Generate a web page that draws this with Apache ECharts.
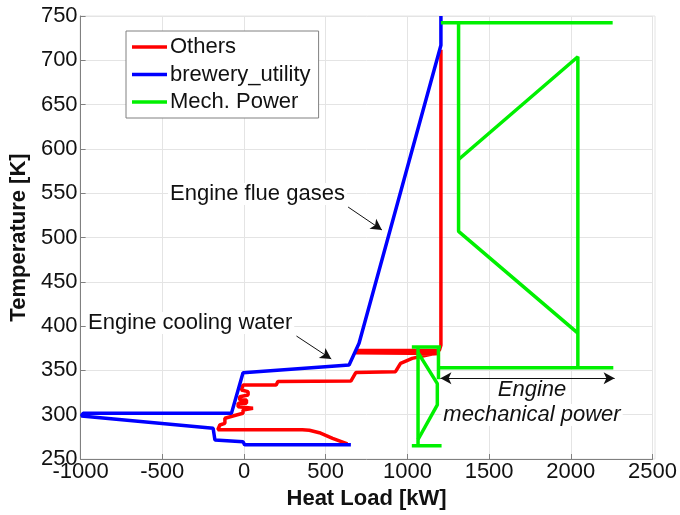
<!DOCTYPE html>
<html>
<head>
<meta charset="utf-8">
<script src="https://cdn.jsdelivr.net/npm/echarts@6/dist/echarts.min.js"></script>
<style>
  html, body { margin: 0; padding: 0; background: #fff; }
  #main { width: 680px; height: 515px; }
</style>
</head>
<body>
<div id="main"></div>
<script>
// axis ticks
const xTicks = { min: -1000, max: 2500, step: 500 };
const yTicks = { min: 250, max: 750, step: 50 };

// composite curves [heat load kW, temperature K]
const others = [
  [633, 267], [542, 273.4], [461, 279.7], [400, 282.5], [357, 283], [-160, 283],
  [-168, 283], [-148, 288.4], [-117, 290.3], [-117, 296], [-46, 299.7], [-6, 301.6],
  [-6, 305.3], [55, 307.2], [-36, 309], [-36, 312.9], [15, 312.9], [15, 316.6],
  [-26, 316.6], [-26, 320.3], [25, 322.3], [25, 326], [-16, 327.9], [-6, 333.5],
  [197, 333.5], [207, 337.5], [654, 338], [684, 347.5], [927, 348.6], [958, 358],
  [1029, 363.6], [1150, 368.5], [1191, 369], [684, 370], [684, 372.5], [1195, 372.5],
  [1205, 378.5], [1205, 712]
];

const breweryUtility = [
  [1205, 750], [1205, 717], [704, 380.6], [643, 356], [-6, 347.4], [-77, 301.5],
  [-985, 301.5], [-995, 298.5], [-189, 284.8], [-178, 284.5], [-178, 271.5],
  [-6, 269.5], [4, 266], [654, 266]
];

// mechanical power is drawn as separate strokes
const mechPower = [
  [[1205, 742.5], [2256, 742.5]],
  [[1313, 742.5], [1313, 507], [2043, 392]],
  [[1313, 588], [2043, 704], [2043, 353]],
  [[1190, 353], [2260, 353]],
  [[1027, 376.5], [1205, 376.5]],
  [[1065, 376.5], [1065, 265]],
  [[1027, 265], [1209, 265]],
  [[1065, 370], [1183, 335], [1183, 311], [1065, 272]],
  [[1190, 376.5], [1190, 340]]
];

// annotation arrows [from, to]
const arrows = [
  { from: [637, 534.4], to: [844, 508.5], both: false },
  { from: [321, 388.8], to: [534, 362.9], both: false },
  { from: [1202, 341], to: [2268, 341], both: true }
];

const font = 'Liberation Sans, Arial, sans-serif';

var myChart = echarts.init(document.getElementById('main'));

let series = [
  {
    name: 'Others', type: 'line', data: others, showSymbol: false, z: 2,
    lineStyle: { color: '#ff0000', width: 3.5 }, itemStyle: { color: '#ff0000' }
  },
  {
    name: 'brewery_utility', type: 'line', data: breweryUtility, showSymbol: false, z: 3,
    lineStyle: { color: '#0000ff', width: 3.5 }, itemStyle: { color: '#0000ff' }
  }
];

mechPower.forEach(function (seg) {
  series.push({
    name: 'Mech. Power', type: 'line', data: seg, showSymbol: false, z: 4,
    lineStyle: { color: '#00f000', width: 3.5 }, itemStyle: { color: '#00f000' }
  });
});

series.push({
  name: 'annotations', type: 'line', data: [], silent: true, z: 5,
  markLine: {
    silent: true,
    animation: false,
    symbolSize: [9, 11],
    label: { show: false },
    lineStyle: { color: '#111', width: 1, type: 'solid' },
    data: arrows.map(function (a) {
      return [
        { coord: a.from, symbol: a.both ? 'arrow' : 'none' },
        { coord: a.to, symbol: 'arrow' }
      ];
    })
  }
});

function plain(v) { return String(v); }

let option = {
  animation: false,
  backgroundColor: '#fff',
  grid: { left: 80, right: 25, top: 16, bottom: 56, containLabel: false },
  legend: {
    data: ['Others', 'brewery_utility', 'Mech. Power'],
    orient: 'vertical',
    left: 126, top: 31,
    icon: 'rect',
    itemWidth: 35, itemHeight: 3.5,
    itemGap: 5.5,
    padding: [5, 8, 5, 6],
    backgroundColor: '#fff',
    borderColor: '#808080', borderWidth: 1,
    textStyle: { fontFamily: font, fontSize: 22, color: '#111', padding: [0, 0, 0, -2] }
  },
  xAxis: {
    type: 'value',
    min: xTicks.min, max: xTicks.max, interval: xTicks.step,
    name: 'Heat Load [kW]', nameLocation: 'middle', nameGap: 22,
    nameTextStyle: { fontFamily: font, fontSize: 22, fontWeight: 'bold', color: '#111' },
    axisLine: { show: true, onZero: false, lineStyle: { color: '#808080', width: 1 } },
    axisTick: { show: true, inside: true, length: 5, lineStyle: { color: '#808080' } },
    axisLabel: { fontFamily: font, fontSize: 22, color: '#111', margin: 2, formatter: plain },
    splitLine: { show: true, lineStyle: { color: '#e4e4e4', width: 1 } }
  },
  yAxis: {
    type: 'value',
    min: yTicks.min, max: yTicks.max, interval: yTicks.step,
    name: 'Temperature [K]', nameLocation: 'middle', nameGap: 45, nameRotate: 90,
    nameTextStyle: { fontFamily: font, fontSize: 22, fontWeight: 'bold', color: '#111' },
    axisLine: { show: true, onZero: false, lineStyle: { color: '#808080', width: 1 } },
    axisTick: { show: true, inside: true, length: 5, lineStyle: { color: '#808080' } },
    axisLabel: { fontFamily: font, fontSize: 22, color: '#111', margin: 3, formatter: plain },
    splitLine: { show: true, lineStyle: { color: '#e4e4e4', width: 1 } }
  },
  graphic: [
    { type: 'rect', shape: { x: 80, y: 16, width: 575, height: 443 }, silent: true,
      style: { fill: 'none', stroke: '#e4e4e4', lineWidth: 1 }, z: -1 },
    { type: 'text', left: 168, top: 183, z: 10,
      style: { text: 'Engine flue gases', font: '22px ' + font, fill: '#111', backgroundColor: '#fff', padding: [0, 2] } },
    { type: 'text', left: 86, top: 312, z: 10,
      style: { text: 'Engine cooling water', font: '22px ' + font, fill: '#111', backgroundColor: '#fff', padding: [0, 2] } },
    { type: 'text', x: 532, y: 390, z: 10,
      style: { text: 'Engine', font: 'italic 22px ' + font, fill: '#111', align: 'center', verticalAlign: 'middle', backgroundColor: '#fff', padding: [0, 2] } },
    { type: 'text', x: 532, y: 415, z: 10,
      style: { text: 'mechanical power', font: 'italic 22px ' + font, fill: '#111', align: 'center', verticalAlign: 'middle', backgroundColor: '#fff', padding: [0, 2] } }
  ],
  series: series
};

myChart.setOption(option);
</script>
</body>
</html>
